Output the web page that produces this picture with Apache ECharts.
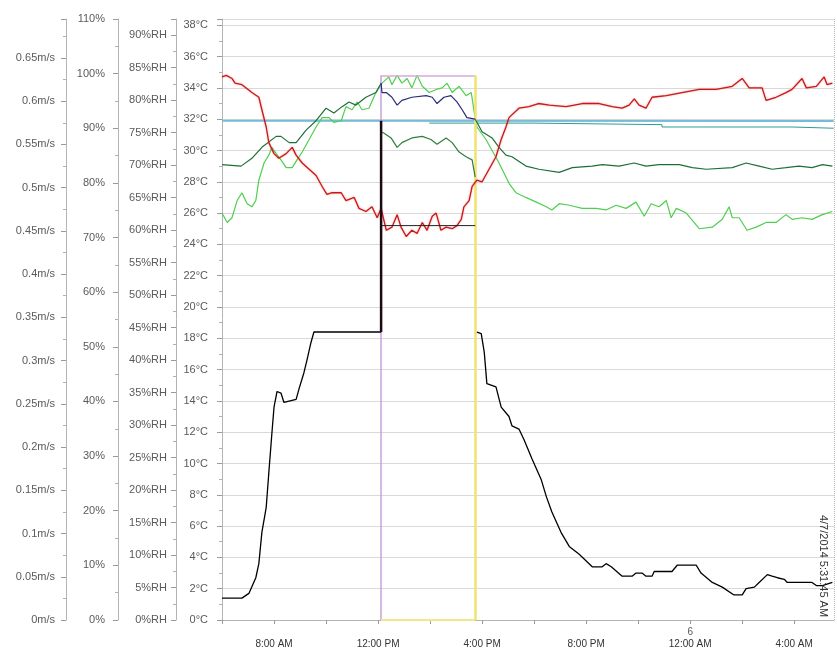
<!DOCTYPE html>
<html>
<head>
<meta charset="utf-8">
<script src="https://cdn.jsdelivr.net/npm/echarts@6/dist/echarts.min.js"></script>
<style>html,body{margin:0;padding:0;background:#fff}#c{width:837px;height:658px}</style>
</head>
<body>
<div id="c"></div>
<script>
// ---- data (time of day, °C) ----
const startClock = '06:00';
const endClock = '05:31:45';
const stampText = '4/7/2014 5:31:45 AM';
const dayLabel = '6';

const redSeries = [['06:00',34.7],['06:10',34.8],['06:23',34.6],['06:30',34.3],['06:46',34.2],['07:09',33.7],['07:25',33.4],['07:32',32.6],['07:42',31.5],['07:48',30.5],['08:00',29.8],['08:11',29.5],['08:28',29.8],['08:42',30.2],['08:51',29.7],['09:05',29.2],['09:21',28.8],['09:37',28.4],['09:51',27.7],['10:02',27.2],['10:14',27.3],['10:35',27.3],['10:46',26.8],['11:05',27.0],['11:16',26.3],['11:32',26.1],['11:46',26.4],['11:58',25.7],['12:02',25.8],['12:07',26.3],['12:19',24.9],['12:32',25.1],['12:44',25.9],['12:53',25.1],['13:05',24.5],['13:18',24.9],['13:30',24.7],['13:42',25.4],['13:53',24.9],['14:05',25.8],['14:14',26.0],['14:25',24.9],['14:37',25.1],['14:51',25.0],['15:02',25.2],['15:12',25.6],['15:18',26.4],['15:30',26.8],['15:37',27.7],['15:48',28.1],['16:00',28.0],['16:16',28.8],['16:32',29.6],['16:44',30.7],['16:55',31.5],['17:02',32.1],['17:25',32.7],['17:48',32.8],['18:10',33.0],['18:35',32.9],['19:14',32.8],['19:51',33.0],['20:30',33.0],['21:00',32.8],['21:23',32.7],['21:39',32.9],['21:51',33.3],['22:02',32.9],['22:18',32.7],['22:32',33.4],['23:05',33.5],['23:41',33.7],['00:21',33.9],['01:00',33.9],['01:37',34.1],['02:00',34.6],['02:16',34.0],['02:46',34.0],['02:55',33.2],['03:18',33.4],['03:41',33.7],['03:55',33.9],['04:18',34.6],['04:28',34.0],['04:51',34.1],['05:09',34.7],['05:16',34.2],['05:28',34.3]];

const darkGreenBefore = [['06:00',29.1],['06:44',29.0],['07:09',29.5],['07:32',30.2],['08:05',30.9],['08:16',30.9],['08:35',30.5],['08:51',30.5],['09:14',31.3],['09:37',31.9],['10:00',32.7],['10:18',32.4],['10:37',32.8],['10:53',33.1],['11:09',32.9],['11:32',33.4],['11:55',33.7],['12:07',34.3]];
const navyInBox = [['12:07',34.3],['12:09',33.7],['12:19',33.7],['12:32',33.4],['12:44',32.9],['12:55',33.2],['13:18',33.4],['13:51',33.5],['14:05',33.4],['14:16',33.0],['14:32',33.4],['14:48',33.5],['15:02',33.1],['15:14',32.6],['15:25',32.1],['15:44',32.0]];
const darkGreenAfter = [['15:44',32.0],['15:48',31.8],['16:00',31.2],['16:23',30.8],['16:39',30.2],['16:55',29.7],['17:09',29.6],['17:41',29.0],['18:11',28.8],['18:58',28.6],['19:28',28.9],['20:14',29.0],['20:37',29.1],['21:16',29.0],['21:51',29.2],['22:18',29.0],['22:48',29.1],['23:35',29.1],['00:05',28.9],['00:37',28.8],['01:37',28.9],['02:09',29.2],['02:39',29.0],['03:09',28.8],['03:41',28.9],['04:11',29.0],['04:41',28.9],['05:05',29.1],['05:28',29.0]];
const lowerGreenInBox = [['12:07',31.2],['12:14',31.1],['12:30',30.8],['12:44',30.2],['12:55',30.5],['13:18',30.8],['13:42',30.9],['14:02',30.7],['14:16',30.4],['14:37',30.8],['14:51',30.5],['15:07',29.9],['15:23',29.6],['15:37',29.4],['15:44',28.3]];

const lightGreenSeries = [['06:00',26.0],['06:12',25.4],['06:23',25.7],['06:35',26.8],['06:46',27.3],['06:58',26.6],['07:09',26.4],['07:18',26.8],['07:25',28.1],['07:37',29.2],['07:48',29.7],['07:55',30.2],['08:05',29.8],['08:16',29.4],['08:28',28.9],['08:42',28.9],['08:53',29.4],['09:05',29.9],['09:21',30.7],['09:37',31.5],['09:51',32.1],['10:07',32.1],['10:18',31.8],['10:35',31.9],['10:46',32.8],['11:00',32.6],['11:12',33.1],['11:23',32.6],['11:39',32.7],['11:55',33.7],['12:02',34.0],['12:09',34.3],['12:25',34.7],['12:32',34.2],['12:44',34.8],['12:55',34.3],['13:07',34.6],['13:18',34.0],['13:30',34.8],['13:42',34.1],['13:58',33.7],['14:14',33.9],['14:28',34.0],['14:39',34.3],['14:51',33.7],['15:07',34.1],['15:23',33.5],['15:35',33.7],['15:41',32.6],['15:48',31.5],['16:09',30.7],['16:23',30.0],['16:39',29.2],['16:55',28.3],['17:02',27.9],['17:18',27.3],['17:41',27.0],['18:05',26.7],['18:28',26.4],['18:41',26.2],['18:58',26.6],['19:21',26.5],['19:51',26.3],['20:23',26.3],['20:46',26.2],['21:09',26.5],['21:32',26.3],['21:55',26.7],['22:14',25.8],['22:30',26.6],['22:48',26.4],['23:05',26.8],['23:16',25.7],['23:28',26.3],['23:51',26.0],['00:21',25.0],['00:51',25.1],['01:14',25.6],['01:30',26.4],['01:37',25.7],['01:53',25.7],['02:11',24.9],['02:32',25.1],['02:55',25.4],['03:18',25.4],['03:41',25.9],['03:55',25.6],['04:18',25.7],['04:41',25.6],['05:05',25.9],['05:28',26.1]];

const cyanSeries = [['06:00',31.9],['05:31',31.88]];
const tealSteps = [['13:58',31.75],['17:55',31.65],['22:55',31.5],['03:55',31.42],['05:31',31.42]];

const blackBefore = [['06:00',1.4],['06:46',1.4],['07:02',1.7],['07:18',2.7],['07:25',3.6],['07:32',5.6],['07:42',7.2],['07:48',9.4],['07:55',11.9],['08:00',13.6],['08:07',14.6],['08:16',14.5],['08:23',13.9],['08:51',14.1],['08:58',14.8],['09:09',15.8],['09:16',16.6],['09:25',17.7],['09:32',18.4],['12:07',18.4]];
const blackJump = [['12:07',18.4],['12:07',31.9]];
const blackInBox = [['12:07',25.2],['15:44',25.2]];
const blackAfter = [['15:48',18.4],['15:58',18.3],['16:05',17.1],['16:11',15.1],['16:32',14.9],['16:44',13.6],['17:02',13.0],['17:09',12.4],['17:25',12.2],['17:37',11.5],['17:55',10.3],['18:16',9.0],['18:28',7.9],['18:41',6.9],['19:02',5.6],['19:21',4.7],['19:44',4.2],['20:14',3.4],['20:37',3.4],['20:46',3.6],['20:58',3.4],['21:23',2.8],['21:46',2.8],['21:55',3.0],['22:09',3.0],['22:18',2.8],['22:32',2.8],['22:37',3.1],['23:18',3.1],['23:30',3.5],['00:14',3.5],['00:25',3.0],['00:51',2.4],['01:14',2.1],['01:41',1.6],['02:00',1.6],['02:09',2.0],['02:28',2.1],['02:39',2.4],['02:58',2.9],['03:09',2.8],['03:21',2.7],['03:37',2.6],['03:44',2.4],['04:41',2.4],['04:51',2.2],['05:05',2.2],['05:28',2.4]];

// selection box (time range and top value)
const selectionStart = '12:07';
const selectionEnd = '15:44';
const selectionTop = 34.8;

// axis ranges
const tempRange = [0, 38.4, 2];
const rhRange = [0, 92.5, 5];
const pctRange = [0, 110, 10];
const speedRange = [0, 0.695, 0.05];

// ---- helpers ----
function toH(s) {
  const p = s.split(':').map(Number);
  const s0 = startClock.split(':').map(Number);
  let h = p[0] + p[1] / 60 + (p[2] || 0) / 3600 - (s0[0] + s0[1] / 60);
  if (h < 0) h += 24;
  return h;
}
function conv(arr) { return arr.map(d => [toH(d[0]), d[1]]); }
function clockLabel(h) {
  const s0 = startClock.split(':').map(Number);
  const c = Math.round(h + s0[0]) % 24;
  const hr12 = c % 12 === 0 ? 12 : c % 12;
  return hr12 + ':00 ' + (c < 12 ? 'AM' : 'PM');
}

const xEnd = toH(endClock);
const xs = toH(selectionStart), xe = toH(selectionEnd);
const FONT = 'Liberation Sans';
const axisLineC = '#b4b4b4';
const labelC = '#5a5a5a';

function yAxisCfg(range, offset, fmt, margin, showMax) {
  return {
    type: 'value', position: 'left', offset: offset,
    min: range[0], max: range[1], interval: range[2],
    axisLine: { show: true, lineStyle: { color: axisLineC } },
    axisTick: { show: true, inside: false, length: 5, lineStyle: { color: '#9a9a9a' } },
    minorTick: { show: true, splitNumber: 2, length: 3, lineStyle: { color: '#b0b0b0' } },
    splitLine: { show: false },
    axisLabel: { color: labelC, fontSize: 11, fontFamily: FONT, margin: margin, showMaxLabel: showMax, showMinLabel: true, formatter: fmt }
  };
}

const chart = echarts.init(document.getElementById('c'), null, { renderer: 'canvas' });

const tempAxis = yAxisCfg(tempRange, 0, v => v + '°C', 14, false);
tempAxis.splitLine = { show: true, lineStyle: { color: '#d9d9d9', width: 1 } };

const lineBase = { type: 'line', showSymbol: false, symbol: 'none', animation: false, yAxisIndex: 0, connectNulls: false };

chart.setOption({
  animation: false,
  backgroundColor: '#ffffff',
  grid: { left: 222, right: 3, top: 19, bottom: 38, containLabel: false },
  xAxis: {
    type: 'value', min: 0, max: xEnd, interval: 2,
    axisLine: { show: true, lineStyle: { color: axisLineC } },
    axisTick: { show: true, length: 4, lineStyle: { color: '#9a9a9a' } },
    splitLine: { show: false },
    axisLabel: {
      margin: 6, showMaxLabel: false, showMinLabel: true,
      formatter: function (h) {
        const s0 = startClock.split(':').map(Number);
        const c = Math.round(h + s0[0]) % 24;
        if (Math.abs(h - Math.round(h)) > 1e-6 || c % 4 !== 0) return '';
        const top = c === 0 ? dayLabel : ' ';
        return '{d|' + top + '}\n{t|' + clockLabel(h) + '}';
      },
      rich: {
        d: { fontSize: 10, color: labelC, fontFamily: FONT, lineHeight: 12, align: 'center' },
        t: { fontSize: 10, color: '#333', fontFamily: FONT, lineHeight: 13, align: 'center' }
      }
    }
  },
  yAxis: [
    tempAxis,
    yAxisCfg(rhRange, 46, v => v + '%RH', 9, false),
    yAxisCfg(pctRange, 104, v => v + '%', 13, true),
    yAxisCfg(speedRange, 156, v => parseFloat(v.toFixed(3)) + 'm/s', 11, false)
  ],
  graphic: [{
    type: 'text', x: 823, y: 566, rotation: -Math.PI / 2,
    style: { text: stampText, fontSize: 11, fontFamily: FONT, fill: '#333', align: 'center', verticalAlign: 'middle' },
    z: 100
  }],
  series: [
    Object.assign({}, lineBase, {
      name: 'selection', data: [], silent: true,
      markLine: {
        silent: true, symbol: ['none', 'none'], animation: false, label: { show: false },
        data: [
          [{ coord: [xs, 0], lineStyle: { color: '#c8a2d8', width: 1.5, type: 'solid' } }, { coord: [xs, selectionTop] }],
          [{ coord: [xs, selectionTop], lineStyle: { color: '#d8a8d8', width: 1.5, type: 'solid' } }, { coord: [xe, selectionTop] }],
          [{ coord: [xe, 0], lineStyle: { color: '#f2e36a', width: 2.5, type: 'solid' } }, { coord: [xe, selectionTop] }],
          [{ coord: [xs, 0], lineStyle: { color: '#f2e88a', width: 2, type: 'solid' } }, { coord: [xe, 0] }],
          [{ coord: [xEnd, 0], lineStyle: { color: '#b8b8b8', width: 1, type: 'dotted' } }, { coord: [xEnd, tempRange[1]] }]
        ]
      }
    }),
    Object.assign({}, lineBase, { name: 'cyan', data: conv(cyanSeries), lineStyle: { color: '#74bcd8', width: 2 }, z: 2 }),
    Object.assign({}, lineBase, { name: 'teal', data: conv(tealSteps), step: 'end', lineStyle: { color: '#2f9c93', width: 1 }, z: 3 }),
    Object.assign({}, lineBase, { name: 'lightGreen', data: conv(lightGreenSeries), lineStyle: { color: '#4fcf4f', width: 1.2 }, z: 4 }),
    Object.assign({}, lineBase, { name: 'darkGreenBefore', data: conv(darkGreenBefore), lineStyle: { color: '#1f6e3a', width: 1.2 }, z: 5 }),
    Object.assign({}, lineBase, { name: 'navy', data: conv(navyInBox), lineStyle: { color: '#2a2a7a', width: 1.2 }, z: 5 }),
    Object.assign({}, lineBase, { name: 'darkGreenAfter', data: conv(darkGreenAfter), lineStyle: { color: '#1f6e3a', width: 1.2 }, z: 5 }),
    Object.assign({}, lineBase, { name: 'lowerGreen', data: conv(lowerGreenInBox), lineStyle: { color: '#2e7d3e', width: 1.2 }, z: 5 }),
    Object.assign({}, lineBase, { name: 'red', data: conv(redSeries), lineStyle: { color: '#c41a1a', width: 1.3, shadowColor: 'rgba(255,90,90,0.6)', shadowBlur: 2 }, z: 6 }),
    Object.assign({}, lineBase, { name: 'blackBefore', data: conv(blackBefore), lineStyle: { color: '#000000', width: 1.3 }, z: 7 }),
    Object.assign({}, lineBase, { name: 'blackJump', data: conv(blackJump), lineStyle: { color: '#1a0a14', width: 2.5 }, z: 7 }),
    Object.assign({}, lineBase, { name: 'blackInBox', data: conv(blackInBox), lineStyle: { color: '#222222', width: 1 }, z: 7 }),
    Object.assign({}, lineBase, { name: 'blackAfter', data: conv(blackAfter), lineStyle: { color: '#000000', width: 1.3 }, z: 7 })
  ]
});
</script>
</body>
</html>
